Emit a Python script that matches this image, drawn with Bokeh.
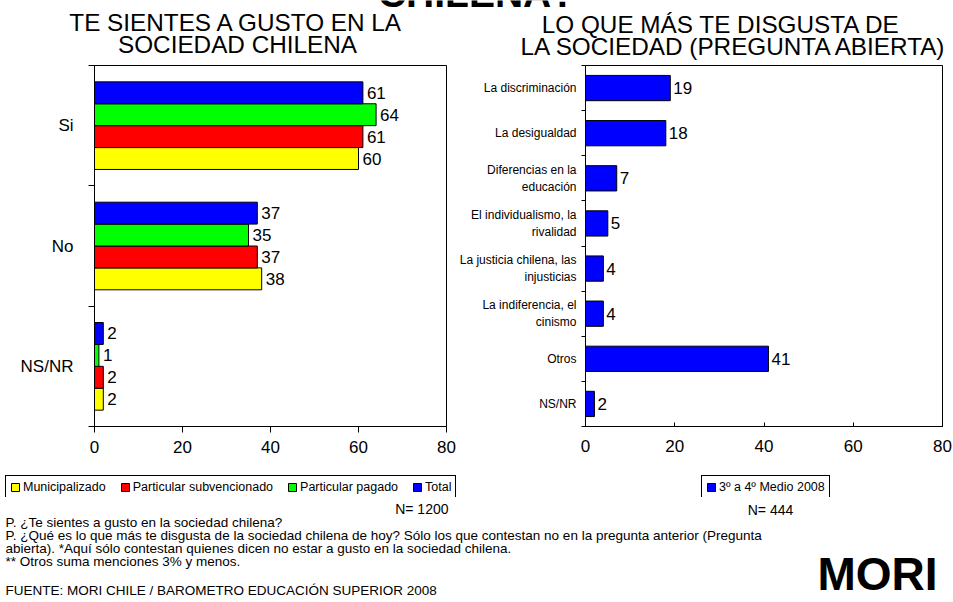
from bokeh.plotting import figure
from bokeh.models import ColumnDataSource, Range1d, FixedTicker, Legend, LegendItem, Label
from bokeh.layouts import column, row
from bokeh.embed import file_html
from bokeh.resources import INLINE
from bokeh.core.properties import value

FONT = "Liberation Sans"

# ---------------- data ----------------
left_categories = ["Si", "No", "NS/NR"]
series_names = ["Municipalizado", "Particular subvencionado", "Particular pagado", "Total"]
series_colors = ["#FFFF00", "#FF0000", "#00FF00", "#0000FF"]
municipalizado = [60, 38, 2]
particular_subvencionado = [61, 37, 2]
particular_pagado = [64, 35, 1]
total = [61, 37, 2]

right_categories = [
    "La discriminación",
    "La desigualdad",
    "Diferencias en la\neducación",
    "El individualismo, la\nrivalidad",
    "La justicia chilena, las\ninjusticias",
    "La indiferencia, el\ncinismo",
    "Otros",
    "NS/NR",
]
right_values = [19, 18, 7, 5, 4, 4, 41, 2]
right_series = "3º a 4º Medio 2008"
right_color = "#0000FF"
x_ticks = [0, 20, 40, 60, 80]

main_title = "CHILENA?"
left_title = ["TE SIENTES A GUSTO EN LA", "SOCIEDAD CHILENA"]
right_title = ["LO QUE MÁS TE  DISGUSTA DE", "LA SOCIEDAD (PREGUNTA ABIERTA)"]
n_left_text = "N= 1200"
n_right_text = "N= 444"
notes = [
    "P. ¿Te sientes a gusto en la sociedad chilena?",
    "P. ¿Qué es lo que más te disgusta de la sociedad chilena de hoy? Sólo los que contestan no en la pregunta anterior (Pregunta",
    "abierta). *Aquí sólo contestan quienes dicen no estar a gusto en la sociedad chilena.",
    "** Otros suma menciones  3% y menos.",
]
source_text = "FUENTE: MORI CHILE  /  BAROMETRO EDUCACIÓN SUPERIOR  2008"
brand = "MORI"


def blank(w, h, x_range=(0, 1), y_range=(0, 1), borders=(0, 0, 0, 0)):
    left, right, top, bottom = borders
    f = figure(width=w, height=h, x_range=x_range, y_range=y_range,
               x_axis_type=None, y_axis_type=None, toolbar_location=None,
               output_backend="svg", min_border_left=left, min_border_right=right,
               min_border_top=top, min_border_bottom=bottom,
               background_fill_color="white", border_fill_color="white")
    f.grid.visible = False
    f.outline_line_color = None
    return f


def lab(f, x, y, text, size, align="left", bold=False):
    f.add_layout(Label(x=x, y=y, x_units="screen", y_units="screen", text=text,
                       text_font=FONT, text_font_size=size, text_align=align,
                       text_baseline="middle", text_color="black",
                       text_font_style="bold" if bold else "normal"))


def style_axis(ax, size, standoff, tick_in, tick_out, minor_in=0, minor_out=0):
    ax.axis_line_color = "black"
    ax.axis_line_width = 1
    ax.major_tick_line_color = "black" if (tick_in or tick_out) else None
    ax.minor_tick_line_color = "black"
    ax.major_label_text_font = FONT
    ax.major_label_text_font_size = size
    ax.major_label_text_color = "black"
    ax.major_label_standoff = standoff
    ax.major_tick_in = tick_in
    ax.major_tick_out = tick_out
    ax.minor_tick_in = minor_in
    ax.minor_tick_out = minor_out


def legend(items, spacing):
    return Legend(items=items, location="top_left", orientation="horizontal",
                  border_line_color="black", border_line_alpha=1, border_line_width=1,
                  background_fill_color="white", background_fill_alpha=1,
                  label_text_font=FONT, label_text_font_size="12.5px", label_text_color="black",
                  glyph_width=10, glyph_height=10, label_standoff=3, spacing=spacing,
                  padding=4, margin=0, label_height=12)


# ---------------- titles strip ----------------
T = blank(952, 60)
lab(T, 476, 67, main_title, "39px", "center", bold=True)
lab(T, 236, 38.5, left_title[0], "24.3px", "center")
lab(T, 237, 16.5, left_title[1], "24.3px", "center")
lab(T, 724, 36.5, right_title[0], "24.3px", "center")
lab(T, 734, 14.5, right_title[1], "24.3px", "center")

# ---------------- left chart ----------------
n_left = len(left_categories)
left_y = [n_left - i - 0.5 for i in range(n_left)]
bar_h = 0.182
series_values = [municipalizado, particular_subvencionado, particular_pagado, total]

L = figure(width=456, height=408, x_range=Range1d(0, 80), y_range=Range1d(0, n_left),
           toolbar_location=None, output_backend="svg",
           min_border_left=94, min_border_right=10, min_border_top=3, min_border_bottom=42,
           background_fill_color="white", border_fill_color="white")
L.grid.visible = False
L.outline_line_color = "black"
L.outline_line_alpha = 1
L.outline_line_width = 1

ns = len(series_names)
left_sources = []
for k, (name, color, vals) in enumerate(zip(series_names, series_colors, series_values)):
    off = (k - (ns - 1) / 2) * bar_h
    src = ColumnDataSource(dict(y=[yy + off for yy in left_y], v=vals, t=[str(v) for v in vals]))
    left_sources.append(src)
    L.hbar(y="y", left=0, right="v", height=bar_h, source=src,
           fill_color=color, line_color="black", line_width=1)
    L.text(x="v", y="y", text="t", source=src, x_offset=4, text_baseline="middle",
           text_align="left", text_font=value(FONT), text_font_size="17px", text_color="black")

L.xaxis.ticker = FixedTicker(ticks=x_ticks)
L.yaxis.ticker = FixedTicker(ticks=left_y, minor_ticks=list(range(n_left + 1)))
L.yaxis.major_label_overrides = {y: c for y, c in zip(left_y, left_categories)}
style_axis(L.xaxis[0], "17px", 8, 0, 6)
style_axis(L.yaxis[0], "17px", 15, 0, 0, 0, 6)

# ---------------- right chart ----------------
n_r = len(right_categories)
right_y = [n_r - i - 0.5 for i in range(n_r)]
R = figure(width=496, height=408, x_range=Range1d(0, 80), y_range=Range1d(0, n_r),
           toolbar_location=None, output_backend="svg",
           min_border_left=125, min_border_right=10, min_border_top=5, min_border_bottom=32,
           background_fill_color="white", border_fill_color="white")
R.grid.visible = False
R.outline_line_color = "black"
R.outline_line_alpha = 1
R.outline_line_width = 1

srcR = ColumnDataSource(dict(y=right_y, v=right_values, t=[str(v) for v in right_values]))
R.hbar(y="y", left=0, right="v", height=0.56, source=srcR,
       fill_color=right_color, line_color="black", line_width=1)
R.text(x="v", y="y", text="t", source=srcR, x_offset=3, text_baseline="middle",
       text_align="left", text_font=value(FONT), text_font_size="17px", text_color="black")

R.xaxis.ticker = FixedTicker(ticks=x_ticks)
R.yaxis.ticker = FixedTicker(ticks=right_y, minor_ticks=list(range(n_r + 1)))
R.yaxis.major_label_overrides = {y: c for y, c in zip(right_y, right_categories)}
style_axis(R.xaxis[0], "17px", 13, 4, 0)
style_axis(R.yaxis[0], "12px", 5, 0, 0, 0, 4)

# ---------------- legend strip ----------------
# legend-only figures: proxy renderers share the chart data, which lies outside
# these strips' ranges; the legend box sits over each strip's small frame.
LL = blank(642, 32, x_range=Range1d(0, 80), y_range=Range1d(-2, -1), borders=(5, 177, 3, 3))
items = []
for name, color, src in zip(series_names, series_colors, left_sources):
    proxy = LL.hbar(y="y", left=0, right="v", height=bar_h, source=src,
                    fill_color=color, line_color="black", line_width=1)
    items.append(LegendItem(label=name, renderers=[proxy]))
LL.add_layout(legend(items, 14), "center")

RL = blank(243, 32, x_range=Range1d(0, 80), y_range=Range1d(-2, -1), borders=(59, 49, 7, 0))
proxyR = RL.hbar(y="y", left=0, right="v", height=0.56, source=srcR,
                 fill_color=right_color, line_color="black", line_width=1)
RL.add_layout(legend([LegendItem(label=right_series, renderers=[proxyR])], 10), "center")

# ---------------- bottom notes ----------------
B = blank(952, 101)
lab(B, 448, 93, n_left_text, "14px", "right")
lab(B, 770, 92, n_right_text, "14px", "center")
for i, line in enumerate(notes):
    lab(B, 5, 79 - 13 * i, line, "13.5px", "left")
lab(B, 5, 11.5, source_text, "13.5px", "left")
lab(B, 877, 28, brand, "46px", "center", bold=True)

layout = column(T, row(L, R), row(LL, RL), B)
open("out.html", "w").write(file_html(layout, INLINE))
